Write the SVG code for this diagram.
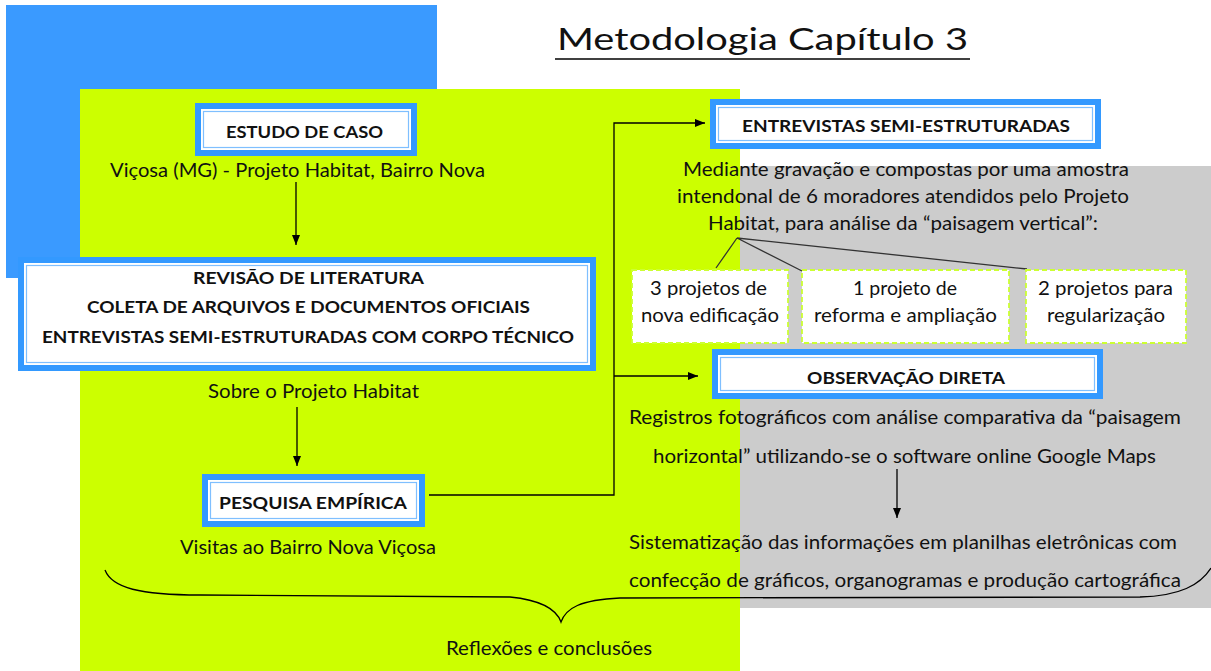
<svg xmlns="http://www.w3.org/2000/svg" width="1211" height="671" viewBox="0 0 1211 671">
<style>
text{font-family:Lato,"Open Sans","DejaVu Sans",sans-serif;fill:#111;}
.t{font-size:19px;}
.c{font-size:17.5px;font-weight:bold;}
.ob{fill:#3399ff;}
.iw{fill:#fff;}
.il{fill:none;stroke:#7fbfff;stroke-width:1.2;}
.dash{fill:#fff;stroke:#ccff33;stroke-width:1.8;stroke-dasharray:5 3;}
.ln{fill:none;stroke:#000;stroke-width:1.3;}
.fl{fill:none;stroke:#333;stroke-width:1.3;}
</style>
<defs>
<marker id="ah" viewBox="0 0 10 8" refX="10" refY="4" markerWidth="10" markerHeight="8" markerUnits="userSpaceOnUse" orient="auto">
<path d="M0,0 L10,4 L0,8 Z" fill="#000"/>
</marker>
</defs>
<rect width="1211" height="671" fill="#fff"/>
<g id="backgrounds">
<rect x="6" y="5" width="431" height="273" fill="#3a9aff"/>
<rect x="600" y="166" width="611" height="442" fill="#cccccc"/>
<rect x="80" y="89" width="660" height="582" fill="#ccff00"/>
</g>
<g id="title">
<text x="557" y="50" font-size="30" textLength="411" lengthAdjust="spacingAndGlyphs">Metodologia Capítulo 3</text>
<line x1="555" y1="59" x2="970" y2="59" stroke="#000" stroke-width="1.5"/>
</g>
<g id="connectors">
<path class="ln" d="M296,182 V245" marker-end="url(#ah)"/>
<path class="ln" d="M297,407 V466" marker-end="url(#ah)"/>
<path class="ln" d="M429,495 H614 V123 H705" marker-end="url(#ah)"/>
<path class="ln" d="M614,376 H698" marker-end="url(#ah)"/>
<path class="ln" d="M897,469 V518" marker-end="url(#ah)"/>
<path class="fl" d="M737,238 L716,268 M737,238 L802,271 M737,238 L1027,269"/>
<path class="ln" d="M105,570 C112,588 140,595 200,595 L510,597 C540,600 556,608 561,622 C566,608 580,600 620,598 L1140,597 C1180,596 1200,585 1211,568"/>
</g>
<g id="estudo">
<rect class="ob" x="195" y="103" width="222" height="53"/>
<rect class="iw" x="201" y="109" width="210" height="41"/>
<rect class="il" x="203.5" y="111.5" width="205" height="36"/>
<text class="c" x="226" y="138" textLength="157" lengthAdjust="spacingAndGlyphs">ESTUDO DE CASO</text>
<text class="t" x="110" y="177" textLength="375" lengthAdjust="spacingAndGlyphs">Viçosa (MG) - Projeto Habitat, Bairro Nova</text>
</g>
<g id="revisao">
<rect class="ob" x="18" y="257" width="578" height="114"/>
<rect class="iw" x="24" y="263" width="566" height="102"/>
<rect class="il" x="26.5" y="265.5" width="561" height="97"/>
<text class="c" x="193" y="284" textLength="231" lengthAdjust="spacingAndGlyphs">REVISÃO DE LITERATURA</text>
<text class="c" x="87" y="313" textLength="443" lengthAdjust="spacingAndGlyphs">COLETA DE ARQUIVOS E DOCUMENTOS OFICIAIS</text>
<text class="c" x="42" y="343" textLength="532" lengthAdjust="spacingAndGlyphs">ENTREVISTAS SEMI-ESTRUTURADAS COM CORPO TÉCNICO</text>
<text class="t" x="208" y="398" textLength="211" lengthAdjust="spacingAndGlyphs">Sobre o Projeto Habitat</text>
</g>
<g id="pesquisa">
<rect class="ob" x="202" y="474" width="223" height="53"/>
<rect class="iw" x="208" y="480" width="211" height="41"/>
<rect class="il" x="210.5" y="482.5" width="206" height="36"/>
<text class="c" x="219" y="509" textLength="188" lengthAdjust="spacingAndGlyphs">PESQUISA EMPÍRICA</text>
<text class="t" x="180" y="554" textLength="256" lengthAdjust="spacingAndGlyphs">Visitas ao Bairro Nova Viçosa</text>
</g>
<g id="entrevistas">
<rect class="ob" x="710" y="99" width="391" height="50"/>
<rect class="iw" x="716" y="105" width="379" height="38"/>
<rect class="il" x="718.5" y="107.5" width="374" height="33"/>
<text class="c" x="742" y="132" textLength="328" lengthAdjust="spacingAndGlyphs">ENTREVISTAS SEMI-ESTRUTURADAS</text>
<text class="t" x="683" y="176" textLength="446" lengthAdjust="spacingAndGlyphs">Mediante gravação e compostas por uma amostra</text>
<text class="t" x="677" y="203" textLength="452" lengthAdjust="spacingAndGlyphs">intendonal de 6 moradores atendidos pelo Projeto</text>
<text class="t" x="708" y="230" textLength="390" lengthAdjust="spacingAndGlyphs">Habitat, para análise da “paisagem vertical”:</text>
</g>
<g id="box-nova">
<rect class="dash" x="632" y="270" width="156" height="73"/>
<text class="t" x="650" y="295" textLength="117" lengthAdjust="spacingAndGlyphs">3 projetos de</text>
<text class="t" x="641" y="322" textLength="138" lengthAdjust="spacingAndGlyphs">nova edificação</text>
</g>
<g id="box-reforma">
<rect class="dash" x="802" y="270" width="207" height="73"/>
<text class="t" x="853" y="295" textLength="104" lengthAdjust="spacingAndGlyphs">1 projeto de</text>
<text class="t" x="814" y="322" textLength="183" lengthAdjust="spacingAndGlyphs">reforma e ampliação</text>
</g>
<g id="box-regular">
<rect class="dash" x="1026" y="270" width="160" height="73"/>
<text class="t" x="1038" y="295" textLength="135" lengthAdjust="spacingAndGlyphs">2 projetos para</text>
<text class="t" x="1047" y="322" textLength="118" lengthAdjust="spacingAndGlyphs">regularização</text>
</g>
<g id="observacao">
<rect class="ob" x="712" y="349" width="391" height="50"/>
<rect class="iw" x="718" y="355" width="379" height="38"/>
<rect class="il" x="720.5" y="357.5" width="374" height="33"/>
<text class="c" x="807" y="384" textLength="198" lengthAdjust="spacingAndGlyphs">OBSERVAÇÃO DIRETA</text>
<text class="t" x="629" y="424" textLength="552" lengthAdjust="spacingAndGlyphs">Registros fotográficos com análise comparativa da “paisagem</text>
<text class="t" x="653" y="463" textLength="503" lengthAdjust="spacingAndGlyphs">horizontal” utilizando-se o software online Google Maps</text>
</g>
<g id="sistematizacao">
<text class="t" x="629" y="549" textLength="548" lengthAdjust="spacingAndGlyphs">Sistematização das informações em planilhas eletrônicas com</text>
<text class="t" x="629" y="587" textLength="552" lengthAdjust="spacingAndGlyphs">confecção de gráficos, organogramas e produção cartográfica</text>
</g>
<g id="reflexoes">
<text class="t" x="446" y="655" textLength="206" lengthAdjust="spacingAndGlyphs">Reflexões e conclusões</text>
</g>
</svg>
